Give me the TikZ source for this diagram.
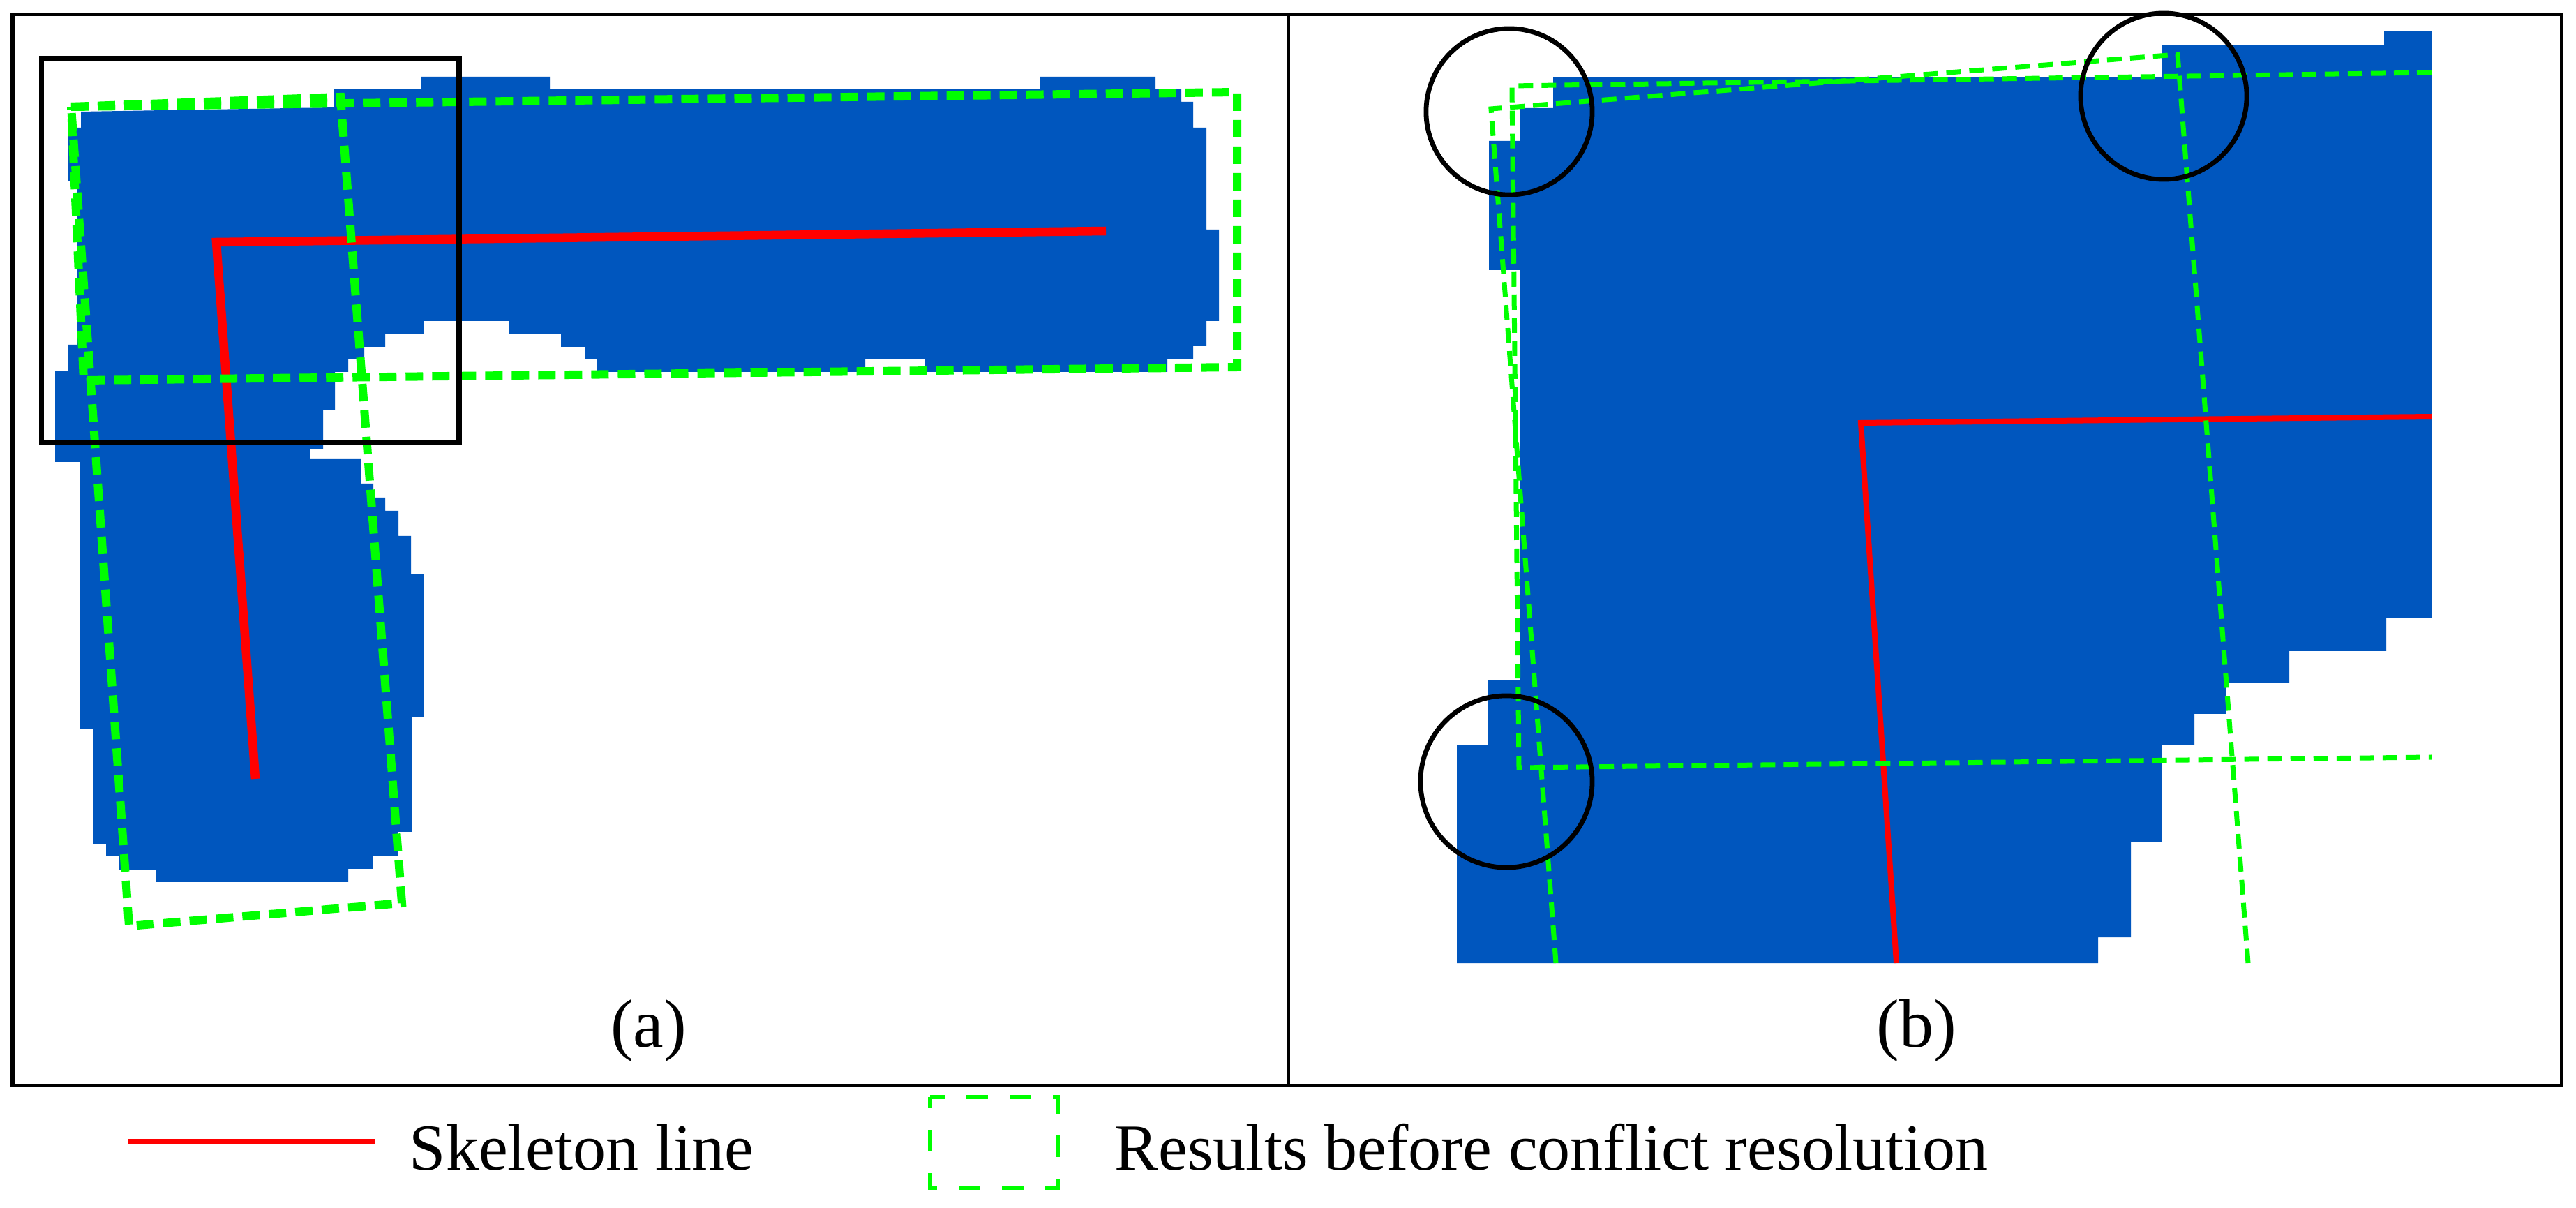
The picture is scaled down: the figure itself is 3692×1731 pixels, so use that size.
\documentclass[tikz,border=0pt]{standalone}
\usepackage{fontspec}
\setmainfont{Liberation Serif}
\definecolor{bblue}{RGB}{0,86,190}
\definecolor{ggreen}{RGB}{0,255,0}
\definecolor{rred}{RGB}{255,0,0}
\begin{document}
\begin{tikzpicture}[x=0.01cm,y=-0.01cm,
  blueshape/.style={fill=bblue,draw=none},
  skelA/.style={draw=rred,line width=0.125cm,line join=miter},
  skelB/.style={draw=rred,line width=0.08cm,line join=miter},
  resA/.style={draw=ggreen,line width=0.12cm,dash pattern=on 0.25cm off 0.13cm},
  resB/.style={draw=ggreen,line width=0.07cm,dash pattern=on 0.21cm off 0.12cm},
  frameline/.style={draw=black,line width=0.05cm},
  zoombox/.style={draw=black,line width=0.075cm},
  markc/.style={draw=black,line width=0.068cm},
  lbl/.style={inner sep=0pt,font=\fontsize{27.9}{32}\selectfont},
  legtxt/.style={inner sep=0pt,font=\fontsize{26.75}{32}\selectfont},
  legskel/.style={draw=rred,line width=0.08cm},
  legbox/.style={draw=ggreen,line width=0.055cm,dash pattern=on 0.31cm off 0.31cm,dash phase=0.15cm}
]
\useasboundingbox (0,0) rectangle (3692,1731);
\fill[white] (0,0) rectangle (3692,1731);

% ---------- panel (a) ----------
\path[blueshape] (116,160) -- (478,154) -- (478,128) -- (603,128) -- (603,110) -- (788,110) -- (788,128)
 -- (1491,128) -- (1491,110) -- (1656,110) -- (1656,128) -- (1693,128) -- (1693,146) -- (1710,146)
 -- (1710,183) -- (1729,183) -- (1729,329) -- (1747,329) -- (1747,460) -- (1729,460) -- (1729,496)
 -- (1710,496) -- (1710,515) -- (1673,515) -- (1673,533) -- (1326,533) -- (1326,515) -- (1240,515)
 -- (1240,533) -- (855,533) -- (855,515) -- (838,515) -- (838,497) -- (804,497) -- (804,479)
 -- (730,479) -- (730,460) -- (607,460) -- (607,478) -- (552,478) -- (552,497) -- (522,497)
 -- (522,515) -- (499,515) -- (499,533) -- (480,533) -- (480,588) -- (463,588) -- (463,643)
 -- (444,643) -- (444,658) -- (517,658) -- (517,693) -- (535,693) -- (535,713) -- (552,713)
 -- (552,732) -- (571,732) -- (571,768) -- (589,768) -- (589,823) -- (607,823) -- (607,1027)
 -- (590,1027) -- (590,1192) -- (570,1192) -- (570,1227) -- (534,1227) -- (534,1245) -- (499,1245)
 -- (499,1264) -- (224,1264) -- (224,1247) -- (170,1247) -- (170,1227) -- (152,1227) -- (152,1209)
 -- (134,1209) -- (134,1045) -- (115,1045) -- (115,662) -- (79,662) -- (79,532) -- (97,532)
 -- (97,494) -- (110,494) -- (110,260) -- (98,260) -- (98,183) -- (116,183) -- cycle;

\draw[skelA] (1585,331) -- (310,347) -- (366,1116);

\draw[resA] (102,153) -- (488,139) -- (576,1294) -- (185,1327) -- cycle;
\draw[resA] (102,153) -- (1773,132) -- (1773,526) -- (120,545) -- cycle;

\draw[zoombox] (59.5,83.5) rectangle (658,634);

\node[lbl,anchor=base] (la) at (929.5,1500) {(a)};

% ---------- panel (b) ----------
\path[blueshape] (2226,111) -- (3098,111) -- (3098,65) -- (3417,65) -- (3417,45) -- (3485,45)
 -- (3485,886) -- (3420,886) -- (3420,933) -- (3281,933) -- (3281,978) -- (3190,978) -- (3190,1023)
 -- (3145,1023) -- (3145,1068) -- (3098,1068) -- (3098,1207) -- (3054,1207) -- (3054,1343)
 -- (3007,1343) -- (3007,1380) -- (2088,1380) -- (2088,1068) -- (2133,1068) -- (2133,975)
 -- (2179,975) -- (2179,387) -- (2134,387) -- (2134,202) -- (2179,202) -- (2179,155) -- (2226,155) -- cycle;

\draw[skelB] (3485,597) -- (2667,606) -- (2718,1380);

\draw[resB] (3485,104) -- (2167,123) -- (2177,1100) -- (3485,1085);
\draw[resB] (2230,1380) -- (2137,156) -- (3121,78) -- (3222,1380);

\draw[markc] (2163,160) circle[radius=1.19cm];
\draw[markc] (3101,138) circle[radius=1.19cm];
\draw[markc] (2159,1120) circle[radius=1.23cm];

\node[lbl,anchor=base] (lb) at (2747,1500) {(b)};

% ---------- frames ----------
\draw[frameline] (18,20.5) rectangle (3671,1555.5);
\draw[frameline] (1846,20.5) -- (1846,1555.5);

% ---------- legend ----------
\coordinate (ls1) at (183,1636);
\coordinate (ls2) at (538,1636);
\draw[legskel] (ls1) -- (ls2);
\node[legtxt,anchor=base west] (lt1) at (586,1676) {Skeleton line};
\draw[legbox] (1333,1572) rectangle (1516,1702);
\node[legtxt,anchor=base west] (lt2) at (1597,1676) {Results before conflict resolution};
\end{tikzpicture}
\end{document}
